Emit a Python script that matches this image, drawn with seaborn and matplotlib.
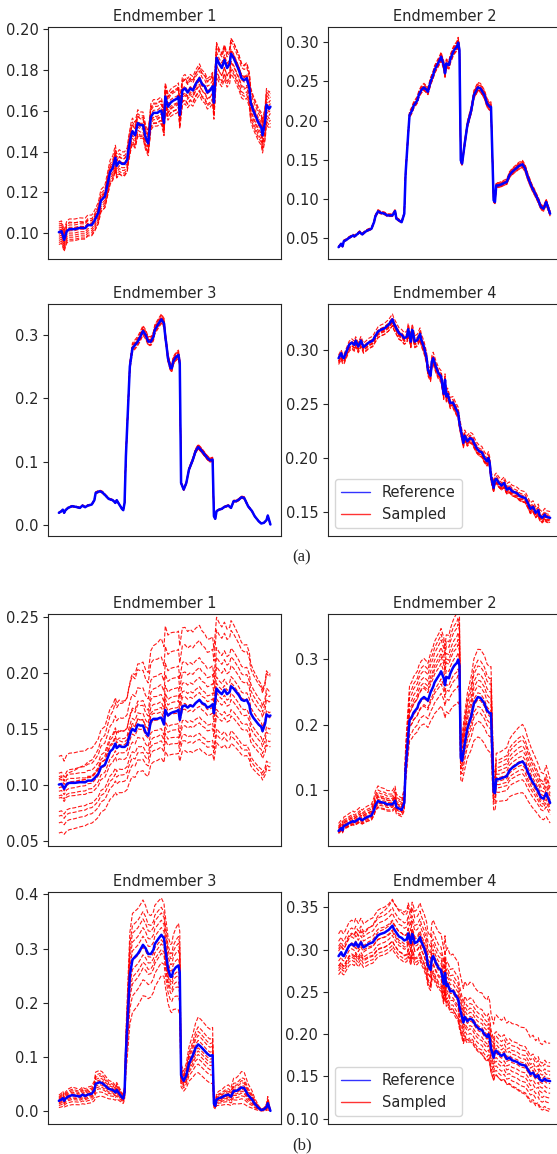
import numpy as np
import pandas as pd
import matplotlib.pyplot as plt
import seaborn as sns
from matplotlib.lines import Line2D

sns.set_style("ticks")
plt.rcParams['font.family'] = ['DejaVu Sans']

# ==========================================
# reference endmember spectra (band index, reflectance)
# ==========================================
bands_e1 = [0, 2, 3, 4, 6, 8, 12, 16, 20, 22, 25, 27, 30, 32, 35, 37, 39, 41, 43, 44,
            46, 48, 50, 52, 53, 55, 56, 58, 60, 62, 64, 66, 68, 70, 72, 75, 77, 78, 80, 81,
            83, 85, 87, 90, 91, 92, 94, 96, 98, 100, 102, 104, 107, 109, 111, 113, 115, 117, 118, 120,
            122, 124, 126, 128, 130, 131, 133, 135, 137, 139, 141, 143, 145, 146, 148, 150, 152, 154, 155, 157,
            158, 160, 161]
refl_e1 = [0.1005, 0.1010, 0.0990, 0.0967, 0.1010, 0.1020, 0.1020, 0.1026, 0.1025, 0.1040,
           0.1040, 0.1060, 0.1100, 0.1160, 0.1180, 0.1240, 0.1300, 0.1320, 0.1370, 0.1330,
           0.1350, 0.1340, 0.1340, 0.1360, 0.1410, 0.1480, 0.1500, 0.1480, 0.1540, 0.1530,
           0.1530, 0.1470, 0.1440, 0.1570, 0.1590, 0.1590, 0.1600, 0.1600, 0.1540, 0.1670,
           0.1620, 0.1640, 0.1650, 0.1660, 0.1670, 0.1580, 0.1700, 0.1710, 0.1690, 0.1710,
           0.1700, 0.1730, 0.1760, 0.1730, 0.1720, 0.1690, 0.1700, 0.1720, 0.1640, 0.1860,
           0.1830, 0.1810, 0.1850, 0.1810, 0.1830, 0.1880, 0.1860, 0.1830, 0.1800, 0.1760,
           0.1750, 0.1760, 0.1710, 0.1640, 0.1600, 0.1570, 0.1540, 0.1520, 0.1480, 0.1550,
           0.1630, 0.1610, 0.1620]

bands_e2 = [0, 2, 3, 4, 6, 8, 11, 12, 14, 16, 18, 20, 22, 25, 27, 28, 30, 32, 35, 37,
            40, 41, 43, 44, 46, 48, 50, 51, 53, 54, 56, 57, 60, 61, 63, 65, 67, 68, 70, 72,
            73, 75, 77, 78, 80, 81, 82, 84, 85, 87, 88, 90, 91, 92, 93, 94, 96, 98, 101, 103,
            106, 108, 111, 113, 115, 116, 118, 119, 120, 122, 124, 126, 128, 130, 132, 135, 137, 140, 142, 144,
            147, 149, 152, 154, 156, 157, 158, 161]
refl_e2 = [0.0380, 0.0423, 0.0390, 0.0457, 0.0474, 0.0500, 0.0530, 0.0517, 0.0543, 0.0573,
           0.0543, 0.0573, 0.0594, 0.0615, 0.0700, 0.0774, 0.0838, 0.0820, 0.0808, 0.0786,
           0.0786, 0.0786, 0.0842, 0.0744, 0.0722, 0.0700, 0.0808, 0.1320, 0.1833, 0.2068,
           0.2132, 0.2184, 0.2260, 0.2325, 0.2390, 0.2423, 0.2390, 0.2368, 0.2496, 0.2581,
           0.2645, 0.2710, 0.2774, 0.2816, 0.2710, 0.2603, 0.2730, 0.2710, 0.2782, 0.2868,
           0.2902, 0.2944, 0.2996, 0.2902, 0.1491, 0.1449, 0.1705, 0.1940, 0.2132, 0.2325,
           0.2423, 0.2410, 0.2325, 0.2218, 0.2175, 0.2175, 0.0979, 0.0957, 0.1170, 0.1170,
           0.1184, 0.1200, 0.1214, 0.1300, 0.1342, 0.1385, 0.1415, 0.1440, 0.1385, 0.1278,
           0.1150, 0.1085, 0.0979, 0.0893, 0.0872, 0.0914, 0.0957, 0.0808]

bands_e3 = [0, 2, 3, 4, 5, 7, 10, 13, 16, 18, 20, 22, 25, 27, 28, 31, 33, 36, 38, 41,
            43, 44, 46, 48, 49, 50, 51, 53, 54, 56, 58, 60, 62, 64, 66, 68, 70, 72, 73, 76,
            78, 80, 81, 82, 83, 85, 86, 87, 89, 91, 92, 93, 95, 97, 99, 102, 104, 106, 108, 111,
            113, 115, 117, 118, 119, 120, 122, 124, 126, 129, 131, 133, 135, 137, 139, 141, 144, 147, 149, 152,
            154, 156, 158, 159, 161]
refl_e3 = [0.0190, 0.0216, 0.0240, 0.0190, 0.0230, 0.0268, 0.0295, 0.0284, 0.0268, 0.0305,
           0.0279, 0.0305, 0.0321, 0.0390, 0.0505, 0.0532, 0.0516, 0.0453, 0.0410, 0.0390,
           0.0347, 0.0390, 0.0321, 0.0253, 0.0232, 0.0347, 0.1084, 0.2032, 0.2505, 0.2795,
           0.2847, 0.2900, 0.2979, 0.3068, 0.3005, 0.2900, 0.2900, 0.2979, 0.3084, 0.3189,
           0.3253, 0.3189, 0.2979, 0.2821, 0.2637, 0.2479, 0.2479, 0.2584, 0.2653, 0.2689,
           0.2558, 0.0663, 0.0558, 0.0663, 0.0874, 0.1032, 0.1163, 0.1232, 0.1189, 0.1111,
           0.1058, 0.1021, 0.1032, 0.0137, 0.0095, 0.0216, 0.0242, 0.0253, 0.0284, 0.0305,
           0.0268, 0.0374, 0.0374, 0.0400, 0.0437, 0.0426, 0.0295, 0.0216, 0.0137, 0.0058,
           0.0021, 0.0032, 0.0074, 0.0147, 0.0005]

bands_e4 = [0, 2, 3, 4, 6, 8, 10, 12, 13, 15, 17, 19, 21, 23, 26, 28, 30, 32, 35, 37,
            38, 41, 42, 44, 46, 48, 50, 52, 53, 55, 56, 57, 58, 60, 62, 63, 65, 67, 68, 70,
            71, 72, 74, 76, 78, 80, 81, 82, 83, 85, 87, 89, 91, 92, 93, 95, 96, 98, 100, 102,
            103, 105, 107, 109, 111, 113, 114, 115, 116, 118, 119, 120, 122, 124, 126, 128, 130, 132, 134, 136,
            138, 140, 142, 144, 146, 148, 150, 152, 153, 155, 157, 158, 161]
refl_e4 = [0.2923, 0.2969, 0.2932, 0.2923, 0.2985, 0.3046, 0.3068, 0.3046, 0.3086, 0.3031,
           0.3086, 0.3025, 0.3046, 0.3068, 0.3086, 0.3129, 0.3169, 0.3185, 0.3200, 0.3222,
           0.3231, 0.3283, 0.3246, 0.3200, 0.3154, 0.3139, 0.3108, 0.3123, 0.3191, 0.3077,
           0.3185, 0.3139, 0.3077, 0.3092, 0.3148, 0.3092, 0.3025, 0.2923, 0.2815, 0.2760,
           0.2892, 0.2923, 0.2846, 0.2784, 0.2754, 0.2593, 0.2723, 0.2569, 0.2593, 0.2507,
           0.2513, 0.2461, 0.2415, 0.2322, 0.2261, 0.2138, 0.2205, 0.2153, 0.2184, 0.2168,
           0.2138, 0.2092, 0.2061, 0.2051, 0.2000, 0.1968, 0.2000, 0.1953, 0.1830, 0.1722,
           0.1793, 0.1805, 0.1768, 0.1743, 0.1768, 0.1706, 0.1722, 0.1691, 0.1682, 0.1670,
           0.1645, 0.1636, 0.1629, 0.1583, 0.1528, 0.1546, 0.1491, 0.1515, 0.1466, 0.1445,
           0.1475, 0.1454, 0.1445]

# ==========================================
# sampled spectra: gain of each sampled curve w.r.t. the reference,
# read at the first, middle and last band
# ==========================================
gain_bands = [0, 80, 161]

gains_a_e1 = [(1.05, 1.04, 1.04), (1.03, 1.03, 1.03), (1.02, 1.02, 1.05), (1.01, 1.00, 1.01),
              (0.99, 1.01, 0.99), (0.98, 0.99, 0.97), (0.97, 0.98, 0.98), (0.96, 0.97, 0.96),
              (0.95, 0.96, 0.94), (0.94, 0.97, 0.95), (1.04, 0.98, 1.02), (1.00, 1.03, 1.00)]
gains_a_e2 = [(1.03, 1.02, 1.04), (1.02, 1.015, 1.03), (1.01, 1.01, 1.02), (1.00, 1.005, 1.01),
              (0.99, 1.00, 0.99), (1.00, 0.99, 0.98), (0.98, 0.985, 0.97), (1.01, 0.98, 1.00),
              (0.99, 0.995, 0.96), (1.02, 1.00, 1.02)]
gains_a_e3 = [(1.04, 1.025, 1.05), (1.02, 1.02, 1.03), (1.00, 1.01, 1.02), (0.99, 1.00, 0.99),
              (1.01, 0.99, 0.98), (0.98, 0.985, 0.96), (0.97, 0.98, 0.97), (1.03, 1.005, 1.01),
              (1.00, 0.995, 0.95), (0.99, 1.015, 1.04)]
gains_a_e4 = [(1.01, 1.02, 1.04), (1.00, 1.01, 1.02), (0.99, 1.00, 1.00), (1.00, 0.99, 0.98),
              (0.98, 0.985, 0.97), (0.99, 0.995, 0.965), (1.005, 1.00, 0.99), (0.985, 0.98, 0.975),
              (1.00, 1.005, 1.01), (0.99, 0.99, 0.985)]

gains_b_e1 = [(1.05, 1.45, 1.23), (1.25, 1.34, 1.22), (1.10, 1.25, 1.14), (0.97, 1.19, 1.11),
              (1.07, 1.13, 1.08), (1.00, 1.09, 1.02), (0.94, 1.06, 0.99), (1.04, 1.03, 0.93),
              (0.90, 1.00, 0.90), (0.88, 0.94, 0.86), (0.76, 0.91, 0.83), (0.72, 0.875, 0.74),
              (0.66, 0.84, 0.72), (0.57, 0.78, 0.70)]
gains_b_e2 = [(1.30, 1.23, 1.45), (1.20, 1.20, 1.30), (1.15, 1.17, 1.25), (1.10, 1.13, 1.18),
              (1.05, 1.10, 1.12), (1.00, 1.08, 1.05), (1.12, 1.04, 1.00), (0.95, 1.00, 0.95),
              (0.92, 0.96, 0.90), (1.00, 0.93, 0.85), (0.90, 0.88, 0.78), (0.92, 0.81, 0.62)]
gains_b_e3 = [(1.55, 1.20, 1.85), (1.40, 1.15, 1.50), (1.30, 1.12, 1.35), (1.20, 1.08, 1.25),
              (1.10, 1.04, 1.10), (1.00, 1.00, 1.00), (1.05, 0.97, 0.90), (0.90, 0.95, 0.80),
              (0.80, 0.92, 0.70), (0.70, 0.90, 0.55), (0.55, 0.85, 0.40), (0.35, 0.78, 0.15)]
gains_b_e4 = [(1.02, 1.16, 1.31), (1.09, 1.10, 1.15), (1.06, 1.07, 1.12), (1.04, 1.05, 1.08),
              (1.00, 1.03, 1.05), (1.03, 1.01, 1.02), (0.98, 0.99, 0.98), (0.96, 0.97, 0.94),
              (1.00, 0.96, 0.90), (0.95, 0.94, 0.86), (0.94, 0.92, 0.82), (0.925, 0.91, 0.77),
              (0.96, 0.93, 0.75)]

titles = ["Endmember 1", "Endmember 2", "Endmember 3", "Endmember 4"]
panel_labels = ["(a)", "(b)"]

yticks_a = [[0.10, 0.12, 0.14, 0.16, 0.18, 0.20],
            [0.05, 0.10, 0.15, 0.20, 0.25, 0.30],
            [0.0, 0.1, 0.2, 0.3],
            [0.15, 0.20, 0.25, 0.30]]
yticks_b = [[0.05, 0.10, 0.15, 0.20, 0.25],
            [0.1, 0.2, 0.3],
            [0.0, 0.1, 0.2, 0.3, 0.4],
            [0.10, 0.15, 0.20, 0.25, 0.30, 0.35]]
ylims_a = [(0.0876, 0.2011), (0.0235, 0.3196), (-0.0169, 0.3495), (0.1281, 0.3425)]
ylims_b = [(0.0462, 0.2524), (0.0158, 0.3690), (-0.0228, 0.4043), (0.0944, 0.3681)]

refs = [(bands_e1, refl_e1), (bands_e2, refl_e2), (bands_e3, refl_e3), (bands_e4, refl_e4)]
gains_a = [gains_a_e1, gains_a_e2, gains_a_e3, gains_a_e4]
gains_b = [gains_b_e1, gains_b_e2, gains_b_e3, gains_b_e4]


def sampled_frame(bands, refl, gains):
    rows = []
    b = np.array(bands)
    r = np.array(refl)
    for k, g in enumerate(gains):
        scale = np.interp(b, gain_bands, g)
        rows.append(pd.DataFrame({"band": b, "value": r * scale, "line": k}))
    return pd.concat(rows, ignore_index=True)


# ==========================================
# figure layout (pixels of a 557 x 1154 image)
# ==========================================
W, H = 557, 1154
fig = plt.figure(figsize=(W / 100, H / 100), dpi=100)

col_x = [48.3, 328.0]
ax_w = 232.7
row_tops = [[27, 304], [614, 892]]
ax_h = 231.5


def add_ax(x, top):
    return fig.add_axes([x / W, (H - top - ax_h) / H, ax_w / W, ax_h / H])


for p, (gains_set, yt_set, yl_set) in enumerate([(gains_a, yticks_a, ylims_a),
                                                 (gains_b, yticks_b, ylims_b)]):
    for i in range(4):
        ax = add_ax(col_x[i % 2], row_tops[p][i // 2])
        bands, refl = refs[i]
        df = sampled_frame(bands, refl, gains_set[i])
        sns.lineplot(data=df, x="band", y="value", units="line", estimator=None,
                     color="red", lw=0.8, linestyle="--", alpha=0.9, ax=ax, legend=False)
        sns.lineplot(x=bands, y=refl, color="blue", lw=1.8, ax=ax, legend=False)
        ax.set_title(titles[i], fontsize=10.5, pad=4, color=".15")
        ax.set_xticks([])
        ax.set_xlabel("")
        ax.set_ylabel("")
        ax.set_yticks(yt_set[i])
        ax.set_ylim(*yl_set[i])
        ax.tick_params(axis="y", labelsize=10.5)
        if i == 3:
            handles = [Line2D([], [], color="blue", lw=1, alpha=0.8),
                       Line2D([], [], color="red", lw=1, alpha=0.8)]
            ax.legend(handles, ["Reference", "Sampled"], loc="lower left", fontsize=10.5)

fig.text(302 / W, 1 - 557 / H, panel_labels[0], ha="center", va="center",
         fontsize=12, family="Liberation Serif")
fig.text(302 / W, 1 - 1145 / H, panel_labels[1], ha="center", va="center",
         fontsize=12, family="Liberation Serif")

fig.savefig("out.png", dpi=100)
